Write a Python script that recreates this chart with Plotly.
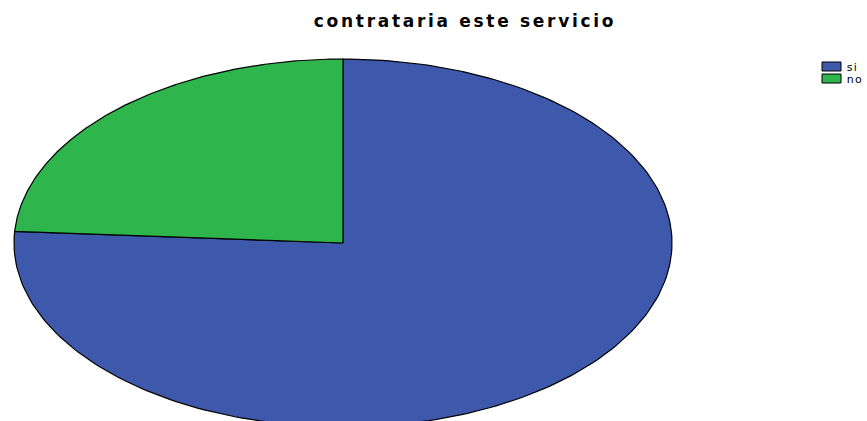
import numpy as np
import plotly.graph_objects as go

# Data
categories = ["si", "no"]
values = [76, 24]
colors = ["#3E58AC", "#2EB54B"]
title_text = "contrataria este servicio"

W, H = 867, 421
cx, cy, a, b = 343, 243, 329, 184  # ellipse layout (pixels)

fig = go.Figure()
total = sum(values)
start = 90.0
for cat, val, col in zip(categories, values, colors):
    sweep = 360.0 * val / total
    t = np.radians(np.linspace(start, start - sweep, 240))
    xs = np.concatenate([[cx], cx + a * np.cos(t), [cx]])
    ys = np.concatenate([[cy], cy - b * np.sin(t), [cy]])
    fig.add_trace(go.Scatter(x=xs, y=ys, mode="lines", fill="toself",
                             fillcolor=col, line=dict(color="black", width=1.2),
                             name=cat, showlegend=False, hoverinfo="name"))
    start -= sweep

# Legend (compact, SPSS-like)
lx0, lx1, ly0, step, bh = 822, 841, 62, 12, 9
for i, (cat, col) in enumerate(zip(categories, colors)):
    y0 = ly0 + i * step
    fig.add_shape(type="rect", xref="x", yref="y", x0=lx0, x1=lx1, y0=y0, y1=y0 + bh,
                  fillcolor=col, line=dict(color="black", width=1))
    fig.add_annotation(x=846, y=y0 + bh / 2 + 0.5, xref="x", yref="y", text=cat,
                       showarrow=False, xanchor="left", yanchor="middle",
                       font=dict(family="DejaVu Sans", size=11, color="black"))

fig.update_layout(
    width=W, height=H,
    margin=dict(l=0, r=0, t=0, b=0),
    paper_bgcolor="white", plot_bgcolor="white",
    xaxis=dict(range=[0, W], visible=False, fixedrange=True),
    yaxis=dict(range=[H, 0], visible=False, fixedrange=True),
    title=dict(text="<b>" + title_text + "</b>", x=465 / W, xanchor="center",
               y=1 - 21 / H, yanchor="middle",
               font=dict(family="DejaVu Sans", size=17, color="black")),
    showlegend=False,
)

post = ("document.body.style.margin='0';"
        "document.querySelectorAll('.gtitle').forEach(function(e){"
        "e.style.letterSpacing='2.7px';});"
        "document.querySelectorAll('.annotation-text').forEach(function(e){"
        "e.style.letterSpacing='1.2px';});")
fig.write_html("out.html", post_script=post, config={"displayModeBar": False})
